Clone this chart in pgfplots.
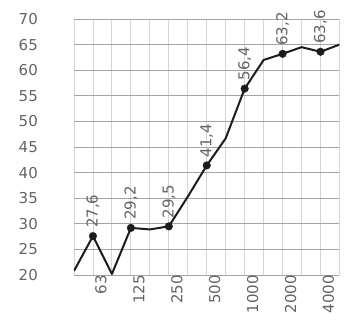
\documentclass[border=0pt]{standalone}
\usepackage{fontspec}
\setmainfont{DejaVu Sans}
\usepackage{pgfplots}
\pgfplotsset{compat=1.18}
\definecolor{txtgray}{HTML}{646464}
\definecolor{hgrid}{HTML}{A4A4A4}
\definecolor{vgrid}{HTML}{DAD5CC}
\definecolor{curve}{HTML}{1C1C1C}
\newcommand{\lblfont}{\fontsize{15}{16}\selectfont}

\begin{document}
\begin{tikzpicture}
\begin{axis}[
    width=265.5pt, height=256pt, scale only axis,
    xmin=0, xmax=14, ymin=20, ymax=70,
    xtick={0,...,14},
    xticklabels={,63,,125,,250,,500,,1000,,2000,,4000,},
    ytick={20,25,...,70},
    grid=major,
    x grid style={vgrid, line width=0.9pt},
    y grid style={hgrid, line width=0.7pt},
    axis line style={draw=none},
    tick style={draw=none},
    /pgf/number format/assume math mode=true,
    yticklabel style={font=\lblfont, text=txtgray, anchor=east, inner sep=0pt, xshift=-36pt},
    xticklabel style={font=\lblfont, text=txtgray, rotate=90, anchor=east, inner sep=0pt, yshift=-8pt},
]
\addplot[curve, line width=2pt, line join=round] coordinates {
    (0,20.8) (1,27.6) (2,20.2) (3,29.2) (4,28.9) (5,29.5) (6,35.3)
    (7,41.4) (8,46.7) (9,56.4) (10,62.0) (11,63.2) (12,64.5) (13,63.6) (14,65.0)
};
\addplot[only marks, mark=*, mark size=3.8pt, curve,
    nodes near coords,
    every node near coord/.append style={rotate=90, anchor=west,
        inner xsep=8pt, inner ysep=0pt, text=txtgray, font=\lblfont},
    /pgf/number format/.cd, fixed, fixed zerofill, precision=1, use comma,
    assume math mode=true]
    coordinates {
    (1,27.6) (3,29.2) (5,29.5) (7,41.4) (9,56.4) (11,63.2) (13,63.6)
};
\coordinate (sw) at (rel axis cs:0,0);
\coordinate (ne) at (rel axis cs:1,1);
\end{axis}
\pgfresetboundingbox
\path ([xshift=-74pt,yshift=-48pt]sw) rectangle ([xshift=6.5pt,yshift=19pt]ne);
\end{tikzpicture}
\end{document}
